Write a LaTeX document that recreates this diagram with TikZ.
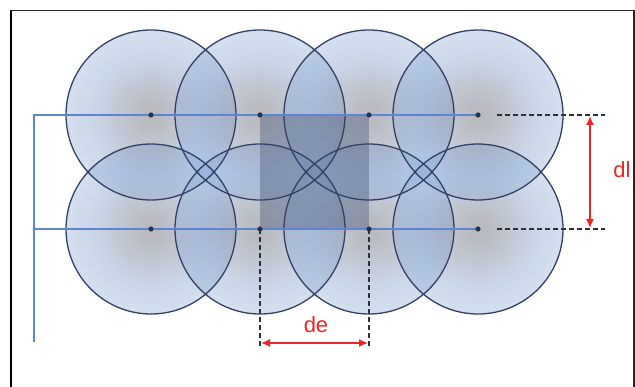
\documentclass[tikz,border=0pt]{standalone}
\usepackage{fontspec}
\setmainfont{Liberation Sans}
\usetikzlibrary{arrows.meta}
\definecolor{cgray}{RGB}{78,78,90}
\definecolor{cblue}{RGB}{128,160,206}
\definecolor{cedge}{RGB}{50,64,102}
\definecolor{cline}{RGB}{92,135,208}
\definecolor{csq}{RGB}{92,106,134}
\definecolor{cred}{RGB}{236,38,42}
\definecolor{cdash}{RGB}{45,48,58}
\pgfdeclareradialshading{ballglow}{\pgfpointorigin}{color(0bp)=(cgray); color(4bp)=(cgray!85!cblue); color(11bp)=(cgray!45!cblue); color(19bp)=(cblue); color(25bp)=(cblue!85!white); color(50bp)=(cblue!85!white)}
\tikzset{
  ball/.style={shading=ballglow, fill opacity=0.4},
  balledge/.style={draw=cedge, line width=1.3pt},
  axisline/.style={draw=cline, line width=1.3pt},
  centerdot/.style={fill=cedge!80!black},
  guide/.style={draw=cdash, line width=1.2pt, dash pattern=on 5pt off 3pt},
  dim/.style={draw=cred, line width=1.3pt, {Latex[length=9pt,width=8pt]}-{Latex[length=9pt,width=8pt]}},
  dimlabel/.style={text=cred, font=\fontsize{22}{22}\selectfont, inner sep=0pt}
}
\begin{document}
\begin{tikzpicture}[x=1pt,y=-1pt]
\useasboundingbox (0,0) rectangle (635,387);
% frame
\draw[line width=2pt, black] (11,387) -- (11,10);
\draw[line width=1.5pt, black!85] (10,10.5) -- (634,10.5) -- (634,387);
% centers
\foreach \i/\x in {1/151,2/260,3/369,4/478}{
  \coordinate (a\i) at (\x,115);
  \coordinate (b\i) at (\x,229);
}
% circles
\foreach \n in {b1,b2,b3,b4,a1,a2,a3,a4}{
  \shade[ball] (\n) circle (85);
}
% square
\fill[csq, fill opacity=0.5] (a2) rectangle (b3);
\foreach \n in {b1,b2,b3,b4,a1,a2,a3,a4}{
  \draw[balledge] (\n) circle (85);
}
% blue lines
\coordinate (ltop) at (34,115);
\coordinate (lmid) at (34,229);
\coordinate (lbot) at (34,342);
\draw[axisline] (a4) -- (ltop) -- (lbot);
\draw[axisline] (lmid) -- (b4);
% dots
\foreach \n in {b1,b2,b3,b4,a1,a2,a3,a4}{
  \fill[centerdot] (\n) circle (2.6);
}
% dashed guides
\coordinate (ga1) at (497,115); \coordinate (ga2) at (605,115);
\coordinate (gb1) at (497,229); \coordinate (gb2) at (605,229);
\coordinate (gd2) at (260,347); \coordinate (gd3) at (369,347);
\draw[guide] (ga1) -- (ga2);
\draw[guide] (gb1) -- (gb2);
\draw[guide] (b2) -- (gd2);
\draw[guide] (b3) -- (gd3);
% dimension arrows
\coordinate (dlt) at (590,116); \coordinate (dlb) at (590,228);
\coordinate (del) at (261,343); \coordinate (der) at (368,343);
\draw[dim] (dlt) -- (dlb);
\draw[dim] (del) -- (der);
\node[dimlabel] (dl) at (622,170) {dl};
\node[dimlabel] (de) at (316,325) {de};
\end{tikzpicture}
\end{document}
